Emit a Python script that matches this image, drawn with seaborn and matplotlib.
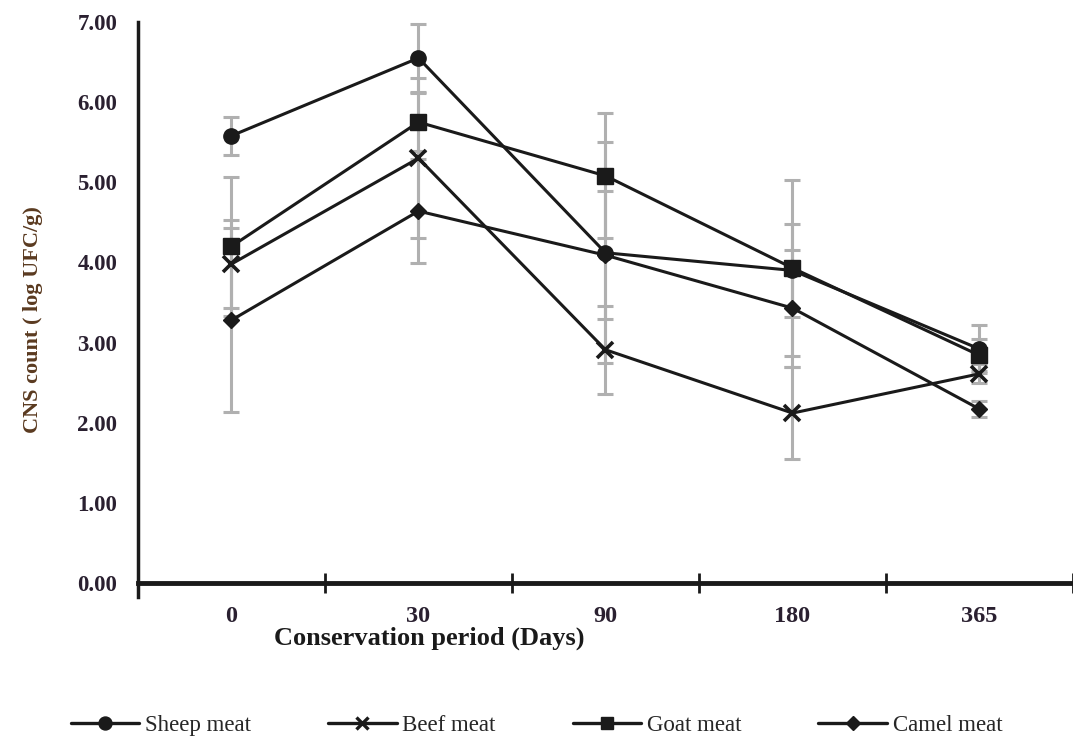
import numpy as np
import pandas as pd
import matplotlib
matplotlib.use("Agg")
import matplotlib.pyplot as plt
import seaborn as sns
from matplotlib.lines import Line2D

days = ["0", "30", "90", "180", "365"]
sheep = [5.58, 6.55, 4.12, 3.90, 2.92]
beef = [3.98, 5.30, 2.91, 2.12, 2.61]
goat = [4.20, 5.75, 5.08, 3.93, 2.84]
camel = [3.28, 4.64, 4.09, 3.43, 2.17]

sheep_err = [0.24, 0.42, 1.38, 0.58, 0.30]
beef_err = [0.55, 1.00, 0.55, 0.57, 0.12]
goat_err = [0.87, 0.36, 0.78, 1.10, 0.20]
camel_err = [1.15, 0.65, 0.80, 0.73, 0.10]

series_names = ["Sheep meat", "Beef meat", "Goat meat", "Camel meat"]
values = [sheep, beef, goat, camel]
errors = [sheep_err, beef_err, goat_err, camel_err]
markers = ["o", "x", "s", "D"]
msizes = [11, 11, 11, 8]

sns.set_theme(style="white")
plt.rcParams["font.family"] = ["Liberation Serif", "DejaVu Serif"]

ink = "#1a1a1a"
fig = plt.figure(figsize=(10.73, 7.42), dpi=100)
ax = fig.add_axes([0.1286, 0.2143, 0.8714, 0.7561])

x = np.arange(len(days))
# grey error bars drawn beneath the series
for vals, errs in zip(values, errors):
    ax.errorbar(x, vals, yerr=errs, fmt="none", ecolor="#b0b0b0",
                elinewidth=2.2, capsize=5.5, capthick=2.2, zorder=1)

for name, vals, m, ms in zip(series_names, values, markers, msizes):
    df = pd.DataFrame({"pos": x, "count": vals})
    sns.lineplot(data=df, x="pos", y="count", color=ink, marker=m,
                 markersize=ms, markeredgecolor=ink, markerfacecolor=ink,
                 markeredgewidth=2.6 if m == "x" else 1.0,
                 linewidth=2.2, ax=ax, zorder=3, label=name, legend=False)

ax.set_xlim(-0.5, 4.5)
ax.set_ylim(0, 7)
yt = np.arange(0, 7.01, 1.0)
ax.set_yticks(yt)
ax.set_yticklabels([f"{v:.2f}" for v in yt], fontsize=16.5,
                   fontweight="bold", color="#2a2030")
ax.set_xticks(np.arange(-0.5, 4.6, 1.0))
ax.set_xticklabels([])
ax.tick_params(axis="x", direction="inout", length=14, width=2, color=ink, bottom=True)
ax.tick_params(axis="y", length=0, pad=15)
for i, d in enumerate(days):
    ax.text(i, -0.42, d, ha="center", va="center", fontsize=17.5,
            fontweight="bold", color="#2a2030")

for side in ["top", "right"]:
    ax.spines[side].set_visible(False)
ax.spines["left"].set_linewidth(2.5)
ax.spines["left"].set_color(ink)
ax.spines["bottom"].set_linewidth(3.5)
ax.spines["bottom"].set_color(ink)
ax.spines["left"].set_bounds(-0.18, 7)

ax.set_xlabel("")
ax.set_ylabel("CNS count ( log UFC/g)", fontsize=16, color="#5a3a20",
              fontweight="bold")
ax.yaxis.set_label_coords(-0.102, 0.47)
fig.text(0.40, 0.140, "Conservation period (Days)", ha="center", va="center",
         fontsize=19, fontweight="bold", color=ink)

handles = []
for m, ms in zip(markers, msizes):
    handles.append(Line2D([0], [0], color=ink, lw=2.4, marker=m,
                          markersize=ms * 0.85, markeredgecolor=ink,
                          markerfacecolor=ink,
                          markeredgewidth=2.4 if m == "x" else 1.0))
fig.legend(handles, series_names, loc="center", bbox_to_anchor=(0.50, 0.022),
           ncol=4, frameon=False, fontsize=16.5, handlelength=3.0,
           handletextpad=0.25, columnspacing=3.35)

fig.savefig("out.png", dpi=100, facecolor="white")
